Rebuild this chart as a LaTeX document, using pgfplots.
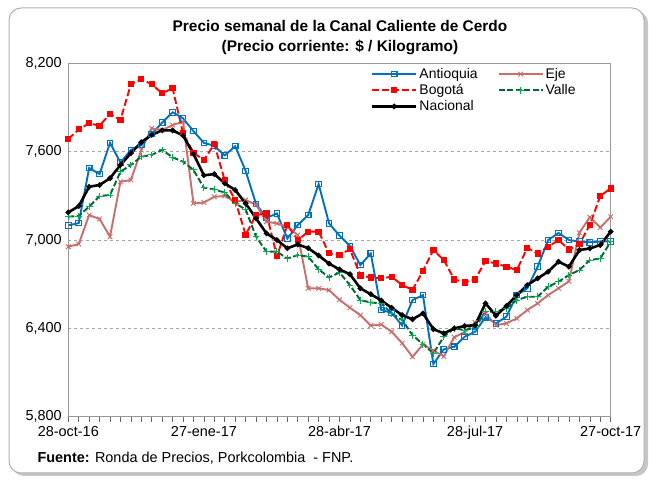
\documentclass[border=0pt]{standalone}
\usepackage{fontspec}
\setmainfont{Liberation Sans}
\usepackage{pgfplots}
\usepackage{pgfplotstable}
\pgfplotsset{compat=1.18}
\definecolor{antc}{RGB}{0,112,192}
\definecolor{ejec}{RGB}{200,110,108}
\definecolor{bogc}{RGB}{255,0,0}
\definecolor{vallel}{RGB}{0,102,51}
\definecolor{vallem}{RGB}{0,176,80}
\pgfplotstableread{
w ant eje bog val nac
0 7100 6955 7686 7159 7188
1 7115 6973 7752 7163 7230
2 7490 7170 7793 7227 7362
3 7448 7143 7777 7299 7374
4 7660 7023 7858 7306 7420
5 7526 7396 7815 7464 7510
6 7612 7408 8058 7510 7590
7 7645 7612 8094 7566 7665
8 7720 7759 8058 7578 7715
9 7798 7747 7997 7612 7745
10 7868 7781 8031 7562 7745
11 7827 7804 7725 7532 7710
12 7740 7249 7593 7476 7585
13 7660 7255 7543 7356 7440
14 7640 7294 7652 7344 7448
15 7575 7299 7405 7322 7385
16 7638 7260 7270 7249 7340
17 7470 7272 7036 7208 7249
18 7245 7240 7170 7023 7147
19 7150 7125 7180 6921 7045
20 7181 7113 6890 6921 7000
21 7010 7091 7102 6875 6944
22 7102 7034 7000 6898 6970
23 7170 6672 7057 6887 6945
24 7380 6672 7057 6801 6895
25 7113 6660 6910 6746 6840
26 7030 6594 6898 6780 6800
27 6960 6540 6938 6694 6768
28 6830 6490 6760 6592 6672
29 6909 6419 6746 6576 6632
30 6525 6426 6740 6570 6590
31 6506 6377 6751 6502 6540
32 6420 6300 6694 6457 6490
33 6592 6207 6662 6354 6462
34 6626 6290 6790 6293 6502
35 6158 6250 6932 6230 6395
36 6258 6210 6864 6343 6366
37 6275 6340 6733 6400 6400
38 6343 6375 6712 6388 6416
39 6377 6440 6733 6405 6422
40 6476 6500 6857 6513 6570
41 6434 6422 6841 6513 6486
42 6479 6434 6819 6536 6552
43 6626 6468 6796 6592 6626
44 6672 6524 6946 6615 6694
45 6819 6570 6909 6615 6740
46 7000 6626 6955 6683 6785
47 7048 6672 7000 6717 6853
48 7000 6720 6935 6762 6819
49 6990 7050 6973 6796 6932
50 6985 7155 7102 6864 6943
51 6990 7085 7299 6875 6966
52 6990 7158 7351 6989 7057
}\datatable
\begin{document}
\begin{tikzpicture}
\path[use as bounding box] (0bp,0bp) rectangle (653bp,480bp);
\fill[gray!45, rounded corners=12bp] (12bp,4bp) rectangle (648bp,469bp);
\filldraw[fill=white, draw=gray!60, line width=1bp, rounded corners=12bp] (9bp,7bp) rectangle (644bp,472bp);
\node[font=\bfseries\fontsize{15.5}{20}\selectfont, align=center] at (340bp,442bp) {Precio semanal de la Canal Caliente de Cerdo\\(Precio corriente: \$ / Kilogramo)};
\node[anchor=west, font=\fontsize{14.5}{17}\selectfont] at (34bp,22bp) {\textbf{Fuente:} Ronda de Precios, Porkcolombia\ \ - FNP.};
\begin{axis}[
  at={(68.3bp,63.3bp)}, anchor=south west, scale only axis,
  width=542.4bp, height=353.3bp,
  xmin=0, xmax=52, ymin=5800, ymax=8200,
  ytick={5800,6400,7000,7600,8200},
  xtick={0,13,26,39,52},
  xticklabels={28-oct-16,27-ene-17,28-abr-17,28-jul-17,27-oct-17},
  minor xtick={0,...,52},
  xtick pos=bottom, xtick align=outside,
  major tick length=5bp, minor tick length=5bp,
  ytick style={draw=none},
  xtick style={gray!80!black, line width=0.6bp},
  minor x tick style={gray!80!black, line width=0.6bp},
  ymajorgrids, grid style={dashed, gray!70, line width=0.7bp},
  axis line style={gray!80, line width=0.9bp},
  /pgf/number format/assume math mode=true,
  /pgf/number format/1000 sep={,},
  yticklabel style={xshift=-3bp},
  xticklabel style={yshift=-1bp},
  tick label style={font=\fontsize{14.5}{17}\selectfont},
  legend style={at={(0.552,0.998)}, anchor=north west, draw=none, fill=none,
    font=\fontsize{14}{16}\selectfont, row sep=0.5bp, cells={anchor=west}},
  legend columns=2,
  legend image code/.code={\draw[mark repeat=2,mark phase=2,#1] plot coordinates {(0bp,0bp) (22bp,0bp) (44bp,0bp)};},
]
\addplot[antc, line width=1.9bp, mark=square, mark size=2.8bp, mark options={fill=white, line width=1.1bp}] table[x=w,y=ant] {\datatable};
\addlegendentry{Antioquia\hspace*{18bp}}
\addplot[ejec, line width=1.9bp, mark=x, mark size=3.3bp, mark options={line width=0.9bp}] table[x=w,y=eje] {\datatable};
\addlegendentry{Eje}
\addplot[bogc, line width=1.9bp, dash pattern=on 7bp off 3bp, mark=square*, mark size=2.2bp, mark options={solid}] table[x=w,y=bog] {\datatable};
\addlegendentry{Bogotá}
\addplot[vallel, line width=1.9bp, dash pattern=on 6bp off 2.5bp, mark=+, mark size=3.4bp, mark options={solid, vallem, line width=1bp}] table[x=w,y=val] {\datatable};
\addlegendentry{Valle}
\addplot[black, line width=2.6bp, mark=*, mark size=1.2bp] table[x=w,y=nac] {\datatable};
\addlegendentry{Nacional}
\end{axis}
\end{tikzpicture}
\end{document}
